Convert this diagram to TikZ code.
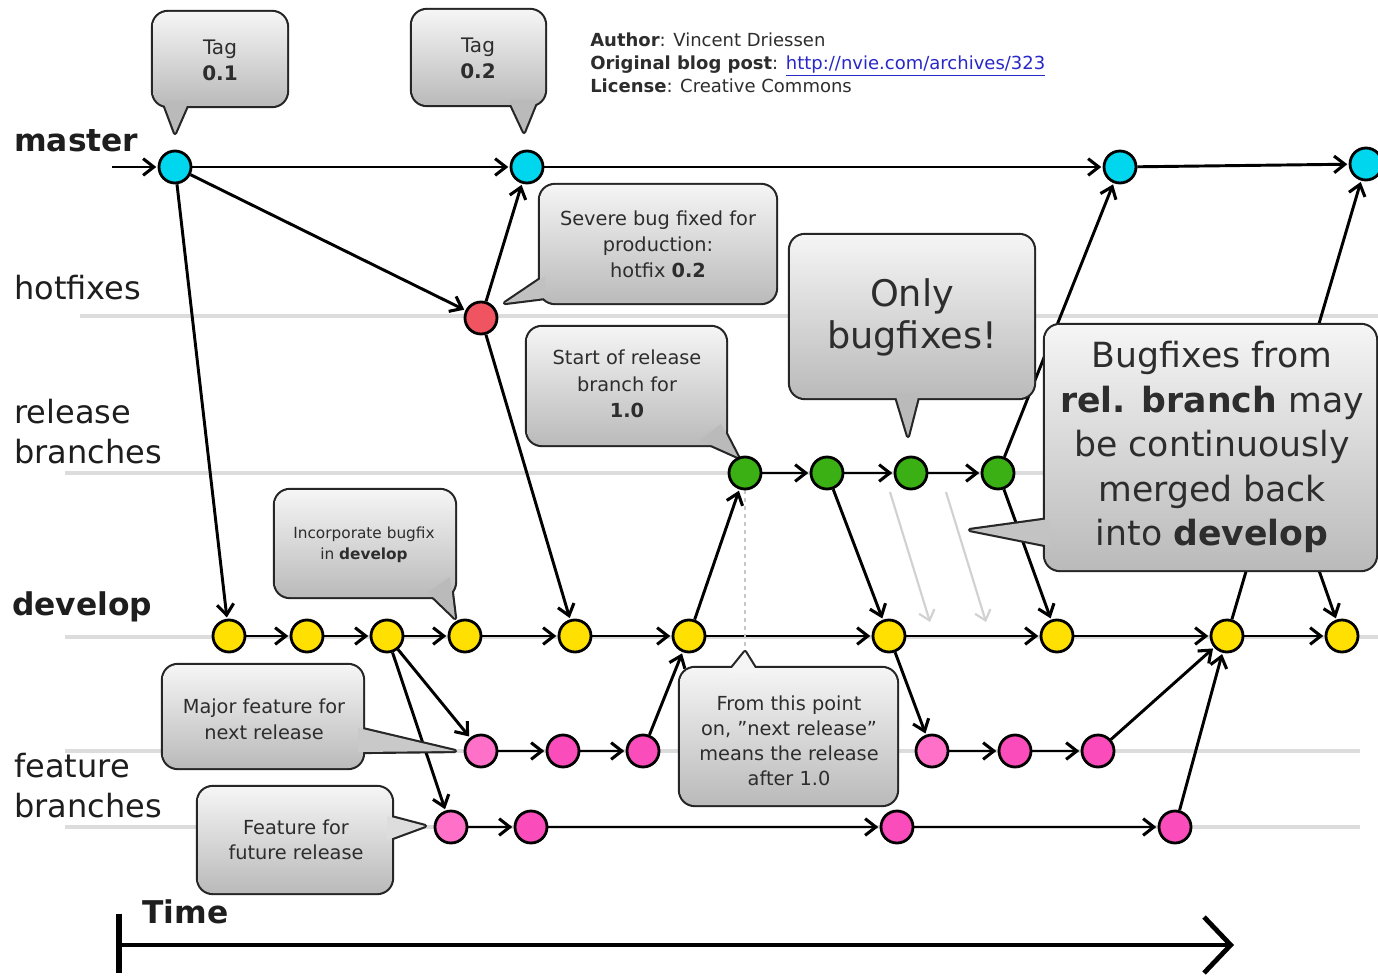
\documentclass[tikz,border=0pt]{standalone}
\usepackage{fontspec}
\setmainfont{DejaVu Sans}
\usetikzlibrary{arrows.meta}
\definecolor{cmaster}{RGB}{0,214,238}
\definecolor{chot}{RGB}{240,84,96}
\definecolor{crel}{RGB}{58,176,20}
\definecolor{cdev}{RGB}{255,224,0}
\definecolor{cfeat}{RGB}{250,76,186}
\definecolor{cfeatl}{RGB}{255,112,200}
\definecolor{lanegray}{RGB}{220,220,220}
\definecolor{bubtop}{RGB}{245,245,245}
\definecolor{bubbot}{RGB}{186,186,186}
\definecolor{bubtext}{RGB}{45,45,45}
\definecolor{labeltext}{RGB}{30,30,30}
\definecolor{linkblue}{RGB}{40,40,200}
\pgfdeclarelayer{bg}
\pgfsetlayers{bg,main}
\newcommand{\fsz}[2]{\fontsize{#1}{#2}\selectfont}
\newcommand{\bubble}[4]{%
  \draw[bubbleline,rounded corners=11pt] #1 rectangle #2;
  \draw[bubbleline] #3;
  \shade[top color=bubtop,bottom color=bubbot,rounded corners=11pt] #1 rectangle #2;
  \fill[#4] #3;}
\begin{document}
\begin{tikzpicture}[x=0.75pt,y=-0.75pt,
  commit/.style={circle,draw=black,line width=2.1pt,minimum size=24pt,inner sep=0pt},
  arr/.style={line width=2.2pt,shorten >=1pt,-{Straight Barb[length=8pt,width=12.5pt,line width=2.3pt]}},
  ghostarr/.style={line width=1.6pt,draw=black!18,-{Straight Barb[length=7pt,width=12pt,line width=1.6pt]}},
  lane/.style={line width=3pt,draw=lanegray},
  bubbleline/.style={draw=black!85,line width=3.2pt,line join=round},
  lbl/.style={anchor=west,inner sep=0pt,align=left,text=labeltext,font=\fsz{24}{30}},
  lblb/.style={lbl,font={\fsz{23.5}{30}\bfseries}},
  btxt/.style={align=center,text=bubtext,inner sep=0pt}]
\useasboundingbox (0,0) rectangle (1378,977);

% commits
\node[commit,fill=cmaster] (M1) at (175,167) {};
\node[commit,fill=cmaster] (M2) at (527,167) {};
\node[commit,fill=cmaster] (M3) at (1120,167) {};
\node[commit,fill=cmaster] (M4) at (1366,164) {};
\node[commit,fill=chot] (H) at (481,318) {};
\node[commit,fill=crel] (R1) at (745,473) {};
\node[commit,fill=crel] (R2) at (827,473) {};
\node[commit,fill=crel] (R3) at (911,473) {};
\node[commit,fill=crel] (R4) at (998,473) {};
\foreach \n/\x in {1/229,2/307,3/387,4/465,5/575,6/689,7/889,8/1057,9/1227,10/1342}
  \node[commit,fill=cdev] (D\n) at (\x,636) {};
\node[commit,fill=cfeatl] (F1) at (481,751) {};
\node[commit,fill=cfeat] (F2) at (563,751) {};
\node[commit,fill=cfeat] (F3) at (643,751) {};
\node[commit,fill=cfeatl] (F4) at (932,751) {};
\node[commit,fill=cfeat] (F5) at (1015,751) {};
\node[commit,fill=cfeat] (F6) at (1098,751) {};
\node[commit,fill=cfeatl] (G1) at (451,827) {};
\node[commit,fill=cfeat] (G2) at (531,827) {};
\node[commit,fill=cfeat] (G3) at (897,827) {};
\node[commit,fill=cfeat] (G4) at (1175,827) {};

\coordinate (mstart) at (112,167);
\coordinate (hid) at (1296,505);
\coordinate (dashend) at (745,668);
\coordinate (ga1s) at (890,492);
\coordinate (ga1e) at (930,622);
\coordinate (ga2s) at (946,492);
\coordinate (ga2e) at (986,622);
\coordinate (tstart) at (120,945);
\coordinate (tend) at (1234,945);
\coordinate (tbar1) at (119,914);
\coordinate (tbar2) at (119,973);

\begin{pgfonlayer}{bg}
\fill[white] (0,0) rectangle (1378,977);
% lanes
\draw[lane] (80,316) -- (1378,316);
\draw[lane] (65,473) -- (1378,473);
\draw[lane] (65,637) -- (1378,637);
\draw[lane] (65,751) -- (1360,751);
\draw[lane] (65,827) -- (1360,827);
% connectors
\draw[arr] (mstart) -- (M1);
\draw[arr] (M1) -- (M2);
\draw[arr] (M2) -- (M3);
\draw[arr] (M3) -- (M4);
\draw[arr] (M1) -- (H);
\draw[arr] (M1) -- (D1);
\draw[arr] (H) -- (M2);
\draw[arr] (H) -- (D5);
\draw[arr] (R1) -- (R2);
\draw[arr] (R2) -- (R3);
\draw[arr] (R3) -- (R4);
\draw[arr] (D6) -- (R1);
\draw[arr] (R2) -- (D7);
\draw[arr] (R4) -- (D8);
\draw[arr] (R4) -- (M3);
\draw[arr] (D9) -- (M4);
\draw[arr] (hid) -- (D10);
\foreach \a/\b in {1/2,2/3,3/4,4/5,5/6,6/7,7/8,8/9,9/10}
  \draw[arr] (D\a) -- (D\b);
\draw[arr] (D3) -- (F1);
\draw[arr] (D3) -- (G1);
\draw[arr] (F1) -- (F2);
\draw[arr] (F2) -- (F3);
\draw[arr] (F3) -- (D6);
\draw[arr] (D7) -- (F4);
\draw[arr] (F4) -- (F5);
\draw[arr] (F5) -- (F6);
\draw[arr] (F6) -- (D9);
\draw[arr] (G1) -- (G2);
\draw[arr] (G2) -- (G3);
\draw[arr] (G3) -- (G4);
\draw[arr] (G4) -- (D9);
\draw[ghostarr] (ga1s) -- (ga1e);
\draw[ghostarr] (ga2s) -- (ga2e);
\draw[dashed,draw=black!22,line width=1.3pt] (R1) -- (dashend);
% time axis
\draw[line width=3.6pt,-{Straight Barb[length=20pt,width=42pt,line width=3.6pt]}] (tstart) -- (tend);
\draw[line width=5pt] (tbar1) -- (tbar2);
% bubbles
\bubble{(153,12)}{(287,106)}{(163,101) -- (175,133) -- (189,101) -- cycle}{bubbot}
\bubble{(412,10)}{(545,105)}{(509,100) -- (524,132) -- (537,100) -- cycle}{bubbot}
\bubble{(540,185)}{(776,303)}{(545,276) -- (505,303) -- (545,298) -- cycle}{bubbot!88!bubtop}
\bubble{(527,327)}{(726,445)}{(700,440) -- (738,457) -- (721,424) -- cycle}{bubbot}
\bubble{(790,235)}{(1034,398)}{(895,393) -- (908,436) -- (919,393) -- cycle}{bubbot}
\bubble{(1045,325)}{(1376,570)}{(1050,519) -- (970,530) -- (1050,546) -- cycle}{bubbot!85!bubtop}
\bubble{(275,490)}{(455,597)}{(428,592) -- (455,618) -- (450,577) -- cycle}{bubbot}
\bubble{(163,665)}{(363,768)}{(358,728) -- (455,751) -- (358,752) -- cycle}{bubbot!74!bubtop}
\bubble{(198,787)}{(392,893)}{(387,816) -- (425,826) -- (387,840) -- cycle}{bubbot!40!bubtop}
\bubble{(680,668)}{(897,805)}{(728,673) -- (745,652) -- (758,673) -- cycle}{bubtop}
\end{pgfonlayer}

% bubble texts
\node[btxt,font=\fsz{15}{19.5}] (t01) at (220,60) {Tag\\\textbf{0.1}};
\node[btxt,font=\fsz{15}{19.5}] (t02) at (478,58) {Tag\\\textbf{0.2}};
\node[btxt,font=\fsz{14.5}{19.5}] (tsev) at (658,244) {Severe bug fixed for\\production:\\hotfix \textbf{0.2}};
\node[btxt,font=\fsz{14.5}{19.8}] (tstart) at (627,384) {Start of release\\branch for\\\textbf{1.0}};
\node[btxt,font=\fsz{27.5}{31.5}] (tonly) at (912,317) {Only\\bugfixes!};
\node[btxt,font=\fsz{26}{33.4}] (tbugs) at (1212,447) {Bugfixes from\\\textbf{rel. branch} may\\be continuously\\merged back\\into \textbf{develop}};
\node[btxt,font=\fsz{11.5}{15.75}] (tinc) at (364,545) {Incorporate bugfix\\in \textbf{develop}};
\node[btxt,font=\fsz{14.5}{19.5}] (tmaj) at (264,719) {Major feature for\\next release};
\node[btxt,font=\fsz{14.5}{19}] (tfut) at (296,840) {Feature for\\future release};
\node[btxt,font=\fsz{14.5}{18.75}] (tfrom) at (789,741) {From this point\\on, "next release"\\means the release\\after 1.0};

% author block
\node[anchor=west,align=left,inner sep=0pt,text=bubtext,font=\fsz{13.5}{17.25}] (author) at (590,63)
  {\textbf{Author}: Vincent Driessen\\
   \textbf{Original blog post}: \textcolor{linkblue}{\underline{http://nvie.com/archives/323}}\\
   \textbf{License}: Creative Commons};

% lane labels
\node[lblb] (lmaster) at (14,141) {master};
\node[lbl] (lhot) at (14,288) {hotfixes};
\node[lbl] (lrel) at (14,432) {release\\branches};
\node[lblb] (ldev) at (12,607) {develop};
\node[lbl] (lfeat) at (14,786) {feature\\branches};
\node[lblb] (ltime) at (142,912) {Time};
\end{tikzpicture}
\end{document}
